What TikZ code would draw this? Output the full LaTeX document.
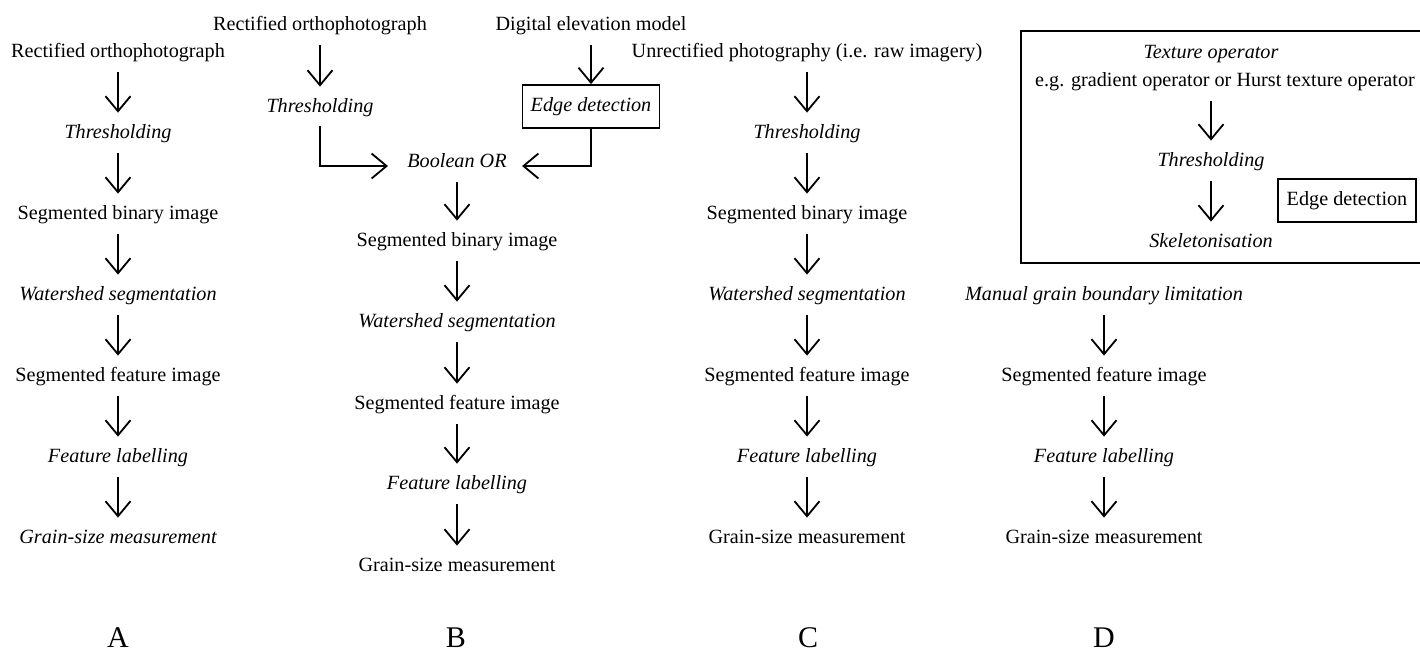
\documentclass[tikz,border=0pt]{standalone}
\usepackage{fontspec}
\setmainfont{Liberation Serif}
\usetikzlibrary{arrows.meta}
\begin{document}
\begin{tikzpicture}[x=0.5pt,y=-0.5pt,
  lbl/.style={inner sep=0pt,text height=7pt,text depth=2pt,font=\fontsize{10.1}{12}\selectfont},
  it/.style={lbl,font=\fontsize{10.1}{12}\selectfont\itshape},
  ebox/.style={draw,line width=0.9pt,inner sep=0pt,minimum height=21.5pt},
  arr/.style={line width=0.9pt,-{Straight Barb[length=7.5pt,width=12.5pt,line width=0.9pt]},shorten <=5.5pt,shorten >=5.5pt},
  letter/.style={inner sep=0pt,font=\fontsize{15}{17}\selectfont}]
\useasboundingbox (0,0) rectangle (1420,654);
% Column A
\node[lbl] (a1) at (118,52) {Rectified orthophotograph};
\node[it]  (a2) at (118,133) {Thresholding};
\node[lbl] (a3) at (118,214) {Segmented binary image};
\node[it]  (a4) at (118,295) {Watershed segmentation};
\node[lbl] (a5) at (118,376) {Segmented feature image};
\node[it]  (a6) at (118,457) {Feature labelling};
\node[it]  (a7) at (118,538) {Grain-size measurement};
\foreach \p/\q in {a1/a2,a2/a3,a3/a4,a4/a5,a5/a6,a6/a7} \draw[arr] (\p) -- (\q);
\node[letter] (la) at (118,638) {A};
% Column B
\node[lbl] (b1) at (320,25) {Rectified orthophotograph};
\node[it]  (b2) at (320,107) {Thresholding};
\node[lbl] (b0) at (591,25) {Digital elevation model};
\node[ebox,it,minimum width=68.5pt,text height=7pt,text depth=2pt] (be) at (591,106.5) {Edge detection};
\node[it]  (bor) at (457,162) {Boolean OR};
\node[lbl] (b3) at (457,241) {Segmented binary image};
\node[it]  (b4) at (457,322) {Watershed segmentation};
\node[lbl] (b5) at (457,404) {Segmented feature image};
\node[it]  (b6) at (457,484) {Feature labelling};
\node[lbl] (b7) at (457,566) {Grain-size measurement};
\draw[arr] (b1) -- (b2);
\draw[arr,shorten >=0pt] (b0) -- (be);
\draw[line width=0.9pt,-{Straight Barb[length=7.5pt,width=12.5pt,line width=0.9pt]},shorten <=5pt,shorten >=9.5pt]
  (b2) |- ([yshift=-2pt]bor.west);
\draw[line width=0.9pt,-{Straight Barb[length=7.5pt,width=12.5pt,line width=0.9pt]},shorten >=7.5pt]
  (be) |- ([yshift=-2pt]bor.east);
\foreach \p/\q in {bor/b3,b3/b4,b4/b5,b5/b6,b6/b7} \draw[arr] (\p) -- (\q);
\node[letter] (lb) at (456,638) {B};
% Column C
\node[lbl] (c1) at (807,52) {Unrectified photography (i.e. raw imagery)};
\node[it]  (c2) at (807,133) {Thresholding};
\node[lbl] (c3) at (807,214) {Segmented binary image};
\node[it]  (c4) at (807,295) {Watershed segmentation};
\node[lbl] (c5) at (807,376) {Segmented feature image};
\node[it]  (c6) at (807,457) {Feature labelling};
\node[lbl] (c7) at (807,538) {Grain-size measurement};
\foreach \p/\q in {c1/c2,c2/c3,c3/c4,c4/c5,c5/c6,c6/c7} \draw[arr] (\p) -- (\q);
\node[letter] (lc) at (808,638) {C};
% Column D
\draw[line width=0.9pt] (1422,31) -| (1021,263) -- (1422,263);
\node[it]  (d0) at (1211,53) {Texture operator};
\node[lbl] (d0b) at (1225,81) {e.g. gradient operator or Hurst texture operator};
\node[it]  (d2) at (1211,161) {Thresholding};
\node[it]  (d3) at (1211,242) {Skeletonisation};
\node[ebox,lbl,minimum width=69pt] (de) at (1347,200.5) {Edge detection};
\draw[arr] (d0b.south -| d2) -- (d2);
\draw[arr] (d2) -- (d3);
\node[it]  (d4) at (1104,295) {Manual grain boundary limitation};
\node[lbl] (d5) at (1104,376) {Segmented feature image};
\node[it]  (d6) at (1104,457) {Feature labelling};
\node[lbl] (d7) at (1104,538) {Grain-size measurement};
\foreach \p/\q in {d4/d5,d5/d6,d6/d7} \draw[arr] (\p) -- (\q);
\node[letter] (ld) at (1104,638) {D};
\end{tikzpicture}
\end{document}
